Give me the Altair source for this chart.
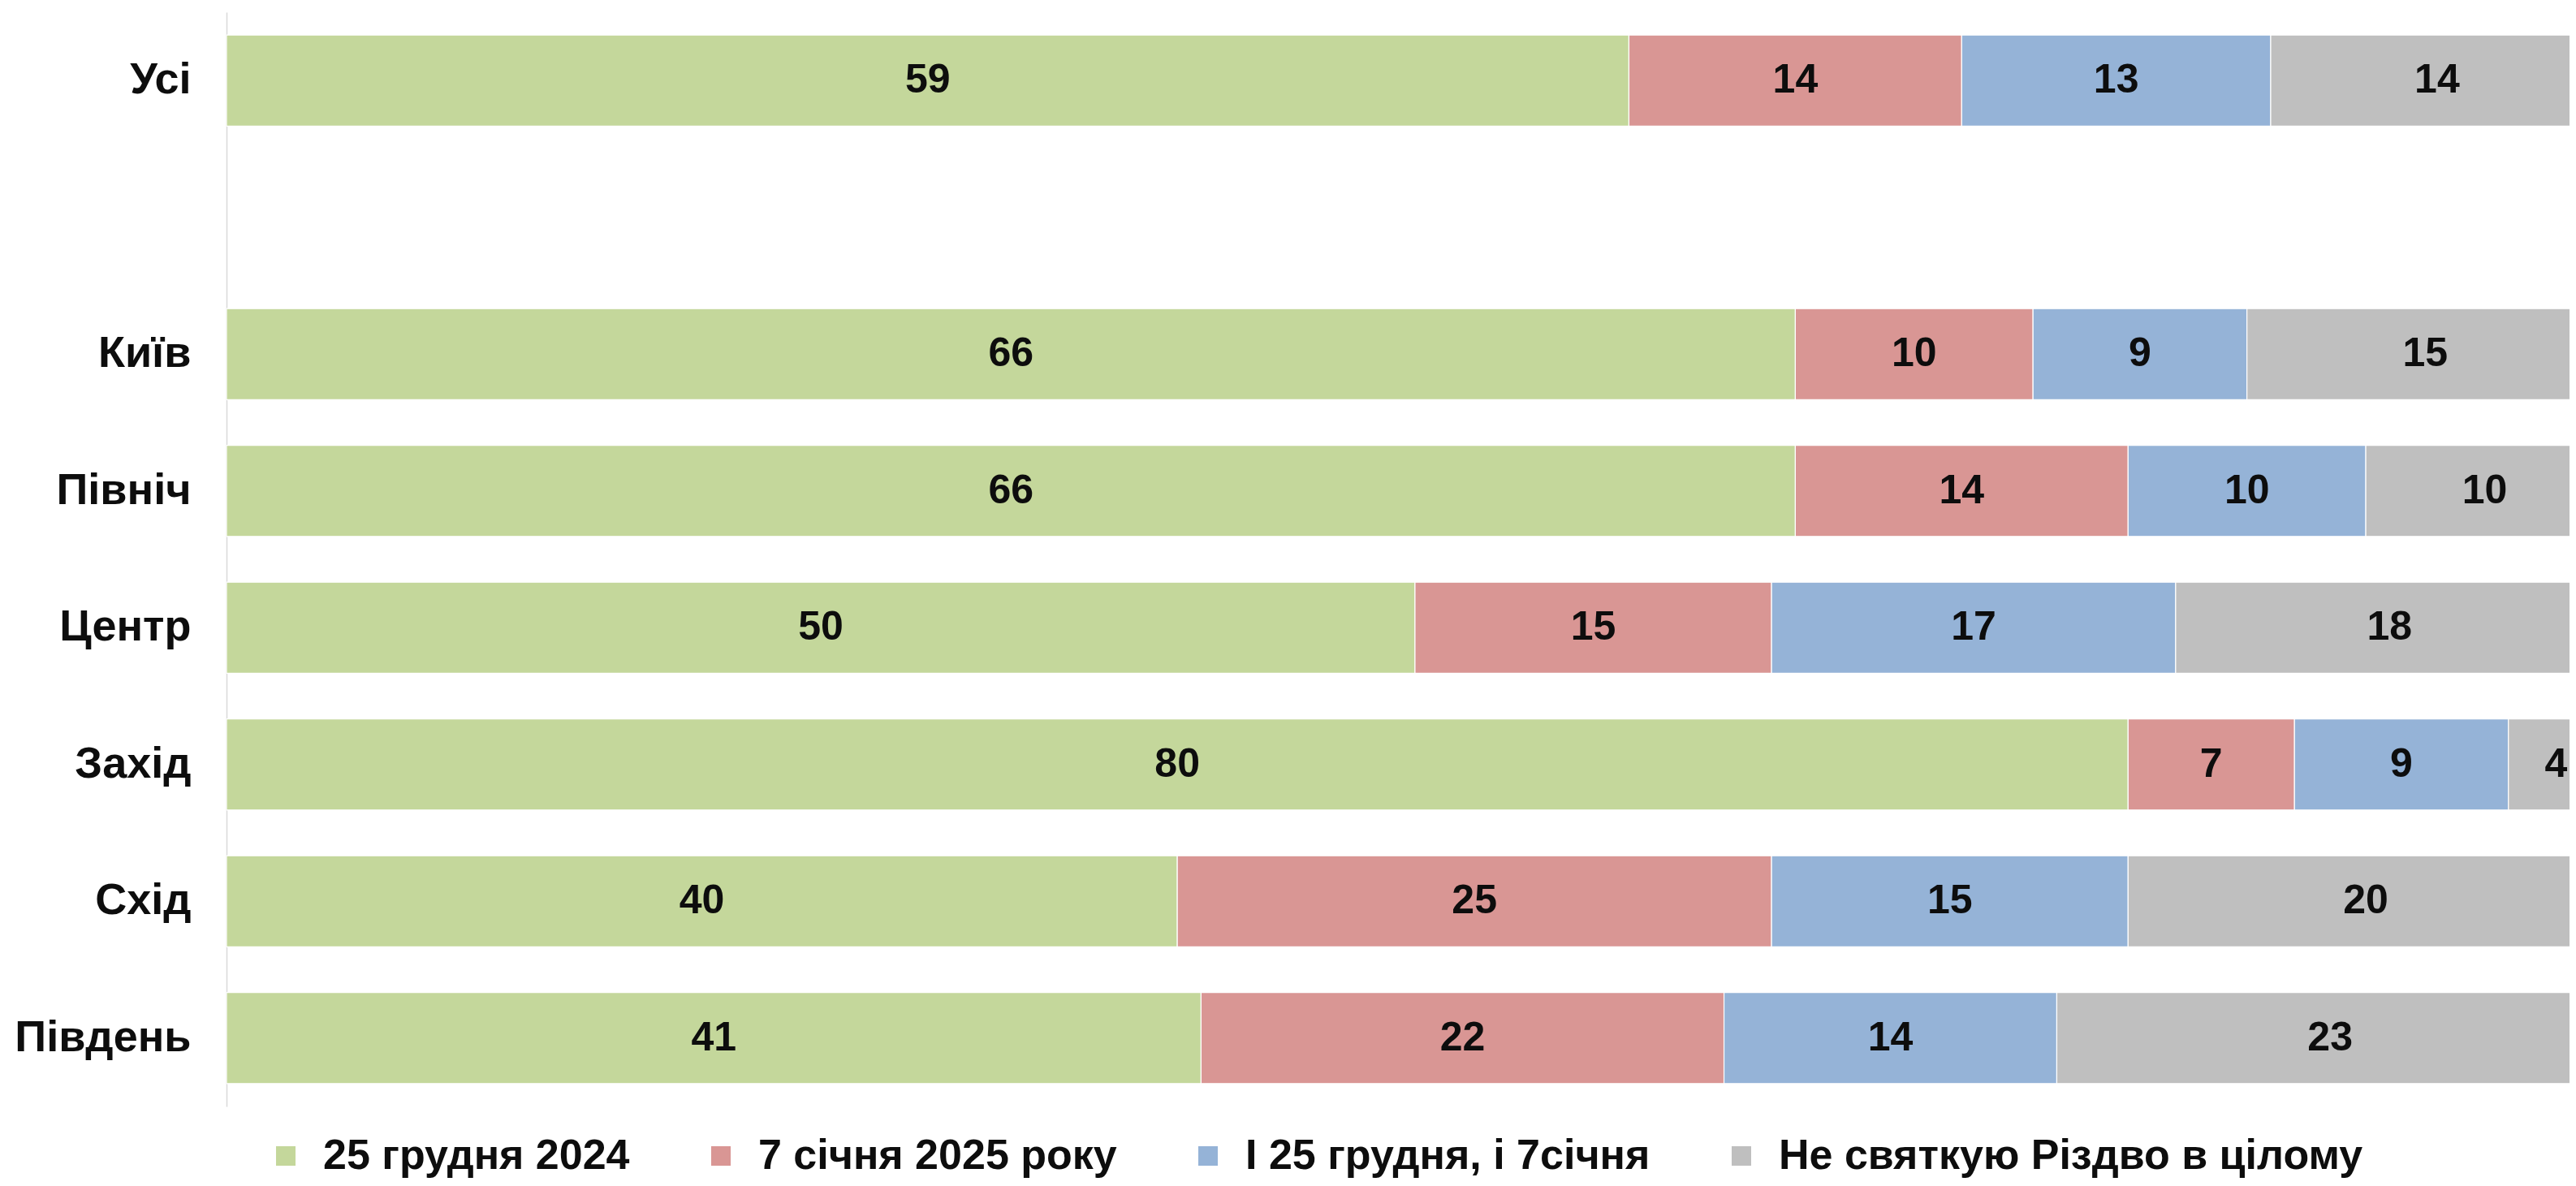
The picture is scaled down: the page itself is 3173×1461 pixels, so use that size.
import altair as alt
import pandas as pd

categories = ["Усі", "Київ", "Північ", "Центр", "Захід", "Схід", "Південь"]
y_order = ["Усі", " ", "Київ", "Північ", "Центр", "Захід", "Схід", "Південь"]
series = ["25 грудня 2024", "7 січня 2025 року", "І 25 грудня, і 7січня", "Не святкую Різдво в цілому"]
dec25 = [59, 66, 66, 50, 80, 40, 41]
jan7 = [14, 10, 14, 15, 7, 25, 22]
both = [13, 9, 10, 17, 9, 15, 14]
none_ = [14, 15, 10, 18, 4, 20, 23]
colors = ["#C4D79B", "#D99694", "#95B3D7", "#BFBFBF"]

rows = []
for si, (s, vals) in enumerate(zip(series, [dec25, jan7, both, none_])):
    for c, v in zip(categories, vals):
        rows.append({"cat": c, "series": s, "order": si, "value": v})
df = pd.DataFrame(rows)

FONT = "Liberation Sans"
xscale = alt.Scale(domain=[0, 98.57], nice=False, zero=True)
yscale = alt.Scale(domain=y_order, paddingInner=0.335, paddingOuter=0.1675)

base = alt.Chart(df).transform_stack(
    stack="value", groupby=["cat"], as_=["x0", "x1"],
    sort=[alt.SortField("order", order="ascending")]
).transform_calculate(mid="(datum.x0 + datum.x1) / 2")

bars = base.mark_bar(stroke="#FFFFFF", strokeWidth=1.2, clip=True).encode(
    x=alt.X("x0:Q", scale=xscale, axis=None),
    x2="x1:Q",
    y=alt.Y("cat:N", scale=yscale, title=None,
            axis=alt.Axis(labelFont=FONT, labelFontSize=54, labelFontWeight="bold",
                          labelColor="#0D0D0D", labelPadding=44, ticks=False,
                          domainColor="#D9D9D9", domainWidth=1.5, labelLimit=600)),
    color=alt.Color("series:N", scale=alt.Scale(domain=series, range=colors),
                    legend=alt.Legend(title=None, orient="none", direction="horizontal",
                                      columns=4, legendX=47, legendY=1383,
                                      symbolType="square", symbolSize=576,
                                      symbolStrokeWidth=0, labelFont=FONT,
                                      labelFontSize=52, labelFontWeight="bold",
                                      labelColor="#0D0D0D", labelOffset=20,
                                      columnPadding=86, labelLimit=1000, padding=0)),
    order=alt.Order("order:Q"),
)

labels = base.mark_text(font=FONT, fontSize=50, fontWeight="bold", color="#0D0D0D",
                        align="center", baseline="middle").encode(
    x=alt.X("mid:Q", scale=xscale),
    y=alt.Y("cat:N", scale=yscale),
    text=alt.Text("value:Q"),
)

chart = alt.layer(bars, labels).properties(
    width=2886, height=1348,
    autosize=alt.AutoSizeParams(type="none"),
    padding={"left": 271, "top": 7, "right": 0, "bottom": 90},
    background="white",
).configure_view(stroke=None)

chart.save("out.html", embed_options={"renderer": "svg", "actions": False})
